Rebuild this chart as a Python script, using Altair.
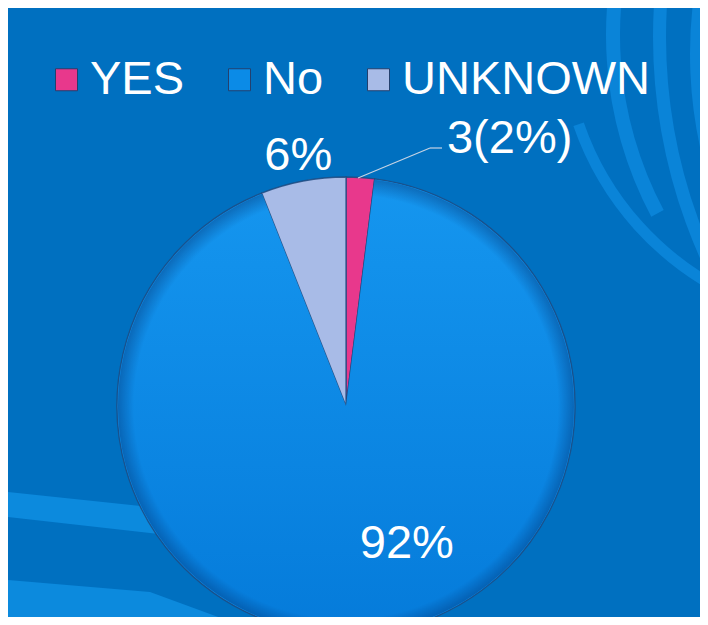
import altair as alt
import pandas as pd
import math

# ---- data ----
categories = ["YES", "No", "UNKNOWN"]
values = [2, 92, 6]
labels = ["3(2%)", "92%", "6%"]
slice_order = [0, 1, 2]
colors = ["#E8388C", "#0B8BE7", "#A8BBE7"]

df = pd.DataFrame({"category": categories, "value": values,
                   "label": labels, "ord": slice_order})

# ---- layout (chart pixel space) ----
W, H = 692, 609
CX, CY, R = 338, 398, 229
FONT = "Liberation Sans"
FS = 47
BG = "#0070C0"

# ---- decorative background template bands ----
band_c = "#0A84D8"
arc_bands = [  # cx, cy, inner, outer, theta0 deg, theta1 deg
    (985, 27, 373, 387, 242, 290),
    (850, 20, 290, 301, 205, 251),
    (1189, 29, 531, 544, 240, 280),
    (1120, 46, 400, 438, 250, 285),
]
dummy = pd.DataFrame({"a": [0]})
deco_layers = []
for cx, cy, ri, ro, t0, t1 in arc_bands:
    deco_layers.append(
        alt.Chart(dummy).mark_arc(color=band_c, clip=True).encode(
            x=alt.value(cx), y=alt.value(cy),
            theta=alt.value(math.radians(t0)), theta2=alt.value(math.radians(t1)),
            radius=alt.value(ro), radius2=alt.value(ri),
        )
    )

strip_x = [0, 142, 242, 300]
strip_top = [484, 499, 510, 516]
strip_bot = [509, 525, 536, 543]
low_x = [0, 142, 232, 300, 330]
low_top = [572, 584, 617, 640, 650]
low_bot = [640, 640, 640, 640, 650]
deco_df1 = pd.DataFrame({"x": strip_x, "y": strip_top, "y2": strip_bot})
deco_df2 = pd.DataFrame({"x": low_x, "y": low_top, "y2": low_bot})
for d in (deco_df1, deco_df2):
    deco_layers.append(
        alt.Chart(d).mark_area(color="#0C8ADD", clip=True).encode(
            x=alt.X("x:Q", scale=None, axis=None),
            y=alt.Y("y:Q", scale=None, axis=None),
            y2="y2:Q",
        )
    )

# ---- pie ----
base = alt.Chart(df).encode(
    theta=alt.Theta("value:Q", stack=True),
    order=alt.Order("ord:Q"),
)

pie = base.mark_arc(outerRadius=R, stroke="#1D4A80", strokeWidth=1.3,
                    strokeOpacity=0.85, clip=True).encode(
    x=alt.value(CX), y=alt.value(CY),
    color=alt.Color(
        "category:N",
        sort=categories,
        scale=alt.Scale(domain=categories, range=colors),
        legend=alt.Legend(
            title=None, orient="none", legendX=35, legendY=48,
            direction="horizontal", symbolType="square", symbolSize=484,
            symbolStrokeColor="#23406E", symbolStrokeWidth=1,
            labelFont=FONT, labelFontSize=FS, labelColor="white",
            labelOffset=0, columnPadding=31, labelLimit=400, padding=0,
            symbolOpacity=1,
        ),
    ),
)

grad = {"gradient": "linear", "x1": 0, "y1": 0, "x2": 0, "y2": 1,
        "stops": [{"offset": 0, "color": "#1596EF"},
                  {"offset": 1, "color": "#057BDA"}]}
pie_shade = base.mark_arc(outerRadius=R - 1, clip=True).encode(
    x=alt.value(CX), y=alt.value(CY),
    color=alt.value(grad),
    opacity=alt.condition(alt.datum.category == "No", alt.value(1), alt.value(0)),
)

rim = {"gradient": "radial", "x1": 0.5, "y1": 0.5, "r1": 0,
       "x2": 0.5, "y2": 0.5, "r2": 0.5,
       "stops": [{"offset": 0, "color": "rgba(0,40,100,0)"},
                 {"offset": 0.93, "color": "rgba(0,40,100,0)"},
                 {"offset": 1, "color": "rgba(0,40,100,0.35)"}]}
pie_rim = base.mark_arc(outerRadius=R - 1, clip=True).encode(
    x=alt.value(CX), y=alt.value(CY),
    color=alt.value(rim),
    opacity=alt.condition(alt.datum.category == "No", alt.value(1), alt.value(0)),
)


def label_layer(cat, radius, dx=0, dy=0, align="center"):
    return base.transform_calculate(
        txt=f"datum.category == '{cat}' ? datum.label : ''"
    ).mark_text(radius=radius, dx=dx, dy=dy, align=align, baseline="middle",
                font=FONT, fontSize=FS, color="white").encode(
        x=alt.value(CX), y=alt.value(CY), text="txt:N",
    )


lab_yes = label_layer("YES", 270, dx=84, dy=2, align="left")
lab_no = label_layer("No", 150, dx=42, dy=-11)
lab_unk = label_layer("UNKNOWN", 255)

leader1 = alt.Chart(dummy).mark_rule(color="#C5D3E4", strokeWidth=1.2).encode(
    x=alt.value(350), y=alt.value(170), x2=alt.value(422), y2=alt.value(140))
leader2 = alt.Chart(dummy).mark_rule(color="#C5D3E4", strokeWidth=1.2).encode(
    x=alt.value(422), y=alt.value(140), x2=alt.value(434), y2=alt.value(140))

chart = alt.layer(
    *deco_layers, pie, pie_shade, pie_rim, leader1, leader2,
    lab_yes, lab_no, lab_unk
).resolve_scale(theta="shared").properties(
    width=W, height=H,
    autosize=alt.AutoSizeParams(type="none"),
    padding=0,
    background=BG,
).configure_view(stroke=None)

chart.save("out.html", embed_options={"renderer": "svg", "actions": False})
